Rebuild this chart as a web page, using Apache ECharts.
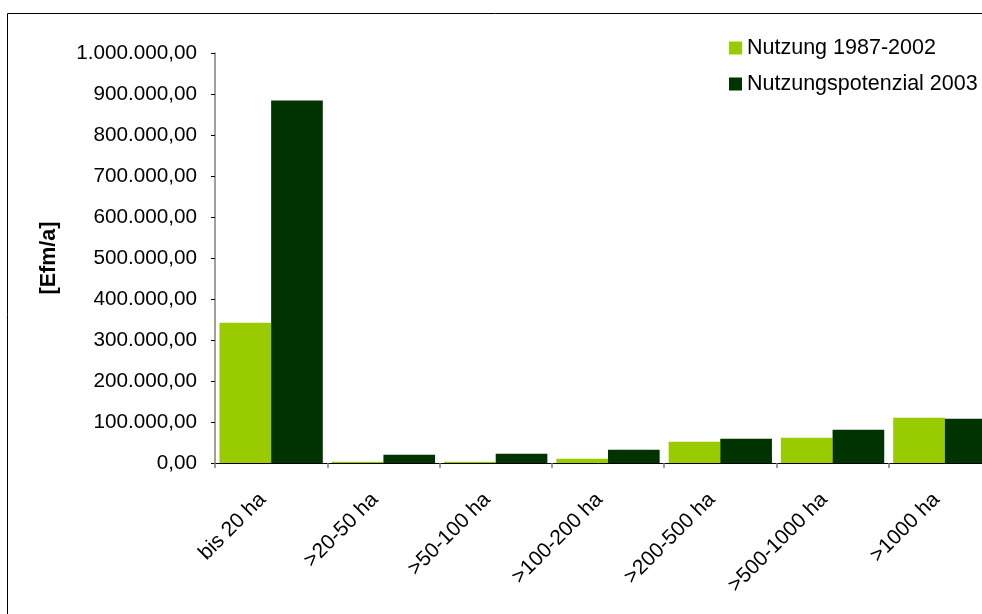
<!DOCTYPE html>
<html>
<head>
<meta charset="utf-8">
<script src="https://cdn.jsdelivr.net/npm/echarts@6/dist/echarts.min.js"></script>
<style>
html,body{margin:0;padding:0;background:#fff;}
#c{width:982px;height:614px;}
</style>
</head>
<body>
<div id="c"></div>
<script>
const categories = ['bis 20 ha', '>20-50 ha', '>50-100 ha', '>100-200 ha', '>200-500 ha', '>500-1000 ha', '>1000 ha'];
const nutzung = [342000, 3000, 3000, 10500, 52000, 61500, 110500];
const potenzial = [884000, 20000, 22500, 32500, 59000, 81000, 108000];
const seriesNames = ['Nutzung 1987-2002', 'Nutzungspotenzial 2003'];
const yAxisName = '[Efm/a]';

function fmtDE(v) {
  const s = Math.round(v).toString().replace(/\B(?=(\d{3})+(?!\d))/g, '.');
  return s + ',00';
}

const chart = echarts.init(document.getElementById('c'), null, {renderer: 'canvas'});
const FONT = '"Liberation Sans", Arial, sans-serif';
chart.setOption({
  animation: false,
  backgroundColor: '#fff',
  textStyle: {fontFamily: FONT},
  graphic: [{
    type: 'rect',
    shape: {x: 7.5, y: 13.5, width: 1100, height: 800},
    style: {fill: 'none', stroke: '#000', lineWidth: 1},
    silent: true
  }],
  legend: {
    orient: 'vertical',
    left: 729,
    top: 37,
    padding: 0,
    itemWidth: 13,
    itemHeight: 13,
    itemGap: 14,
    icon: 'rect',
    textStyle: {fontSize: 21.5, color: '#000', fontFamily: FONT},
    data: seriesNames
  },
  grid: {left: 215, top: 53, width: 786, height: 410, containLabel: false, outerBoundsMode: 'none'},
  xAxis: {
    type: 'category',
    data: categories,
    axisLine: {lineStyle: {color: '#000', width: 1}},
    axisTick: {show: true, length: 5, lineStyle: {color: '#808080', width: 1.5}},
    axisLabel: {rotate: 45, fontSize: 21, color: '#000', margin: 25, padding: [0, 12, 0, 0], fontFamily: FONT, interval: 0}
  },
  yAxis: {
    type: 'value',
    min: 0,
    max: 1000000,
    interval: 100000,
    name: yAxisName,
    nameLocation: 'middle',
    nameGap: 155,
    nameRotate: 90,
    nameTextStyle: {fontSize: 21.5, fontWeight: 'bold', color: '#000', fontFamily: FONT},
    axisLine: {show: true, lineStyle: {color: '#808080', width: 1.5}},
    axisTick: {show: true, length: 4, lineStyle: {color: '#000', width: 1}},
    splitLine: {show: false},
    axisLabel: {fontSize: 20.7, color: '#000', margin: 18, fontFamily: FONT, formatter: fmtDE}
  },
  series: [
    {name: seriesNames[0], type: 'bar', data: nutzung, itemStyle: {color: '#99CC00'}, barGap: '0%', barCategoryGap: '8%'},
    {name: seriesNames[1], type: 'bar', data: potenzial, itemStyle: {color: '#003300'}, barGap: '0%', barCategoryGap: '8%'}
  ]
});
</script>
</body>
</html>
